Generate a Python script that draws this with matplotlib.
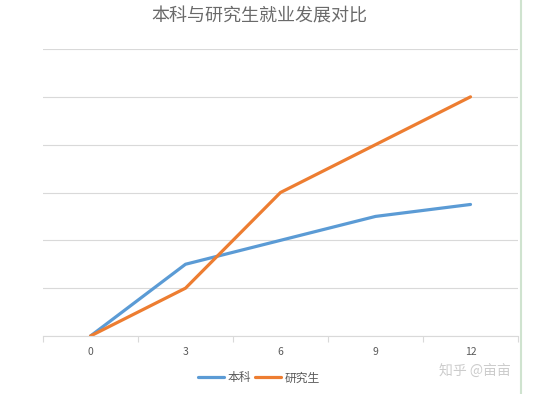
import matplotlib
matplotlib.use("Agg")
import matplotlib.pyplot as plt
import numpy as np

plt.rcParams['font.family'] = ['Noto Sans CJK SC', 'DejaVu Sans']

categories = ['0', '3', '6', '9', '12']
undergrad = [0, 1.5, 2, 2.5, 2.75]
graduate = [0, 1, 3, 4, 5]
series_names = ['本科', '研究生']
title = '本科与研究生就业发展对比'

W, H = 533, 394
fig = plt.figure(figsize=(W/100, H/100), dpi=100)
ax = fig.add_axes([43/W, 1-336/H, (518-43)/W, (336-49)/H])

x = np.arange(len(categories))
ax.plot(x, undergrad, color='#5B9BD5', lw=2.3, label=series_names[0], solid_capstyle='round', solid_joinstyle='round')
ax.plot(x, graduate, color='#ED7D31', lw=2.3, label=series_names[1], solid_capstyle='round', solid_joinstyle='round')

ax.set_xlim(-0.5, len(categories)-0.5)
ax.set_ylim(0, 6)
ax.set_yticks(np.arange(0, 7, 1))
ax.yaxis.grid(True, color='#D9D9D9', lw=0.8)
ax.set_axisbelow(True)
ax.tick_params(axis='y', left=False, labelleft=False)

ax.set_xticks(x)
ax.set_xticklabels(categories, fontsize=7.5, color='#595959')
ax.tick_params(axis='x', length=0, pad=8)
ax.set_xticks(np.arange(-0.5, len(categories), 1), minor=True)
ax.tick_params(axis='x', which='minor', length=4, color='#D9D9D9', width=0.8)

for s in ['top', 'right', 'left']:
    ax.spines[s].set_visible(False)
ax.spines['bottom'].set_color('#D9D9D9')
ax.spines['bottom'].set_linewidth(0.8)

fig.text(259/W, 1-17/H, title, ha='center', va='center', fontsize=13, color='#6A6A6A')

leg = fig.legend(loc='center', bbox_to_anchor=(259/W, 1-378/H), ncol=2, frameon=False,
                 fontsize=8.5, handlelength=2.2, handletextpad=0.3, columnspacing=0.4)
for t in leg.get_texts():
    t.set_color('#595959')

fig.text(475/W, 1-372/H, '知乎 @亩亩', ha='center', va='center', fontsize=10, color='#CCCCCC')
fig.add_artist(plt.Line2D([521/W, 521/W], [0, 1], color='#CFE3CF', lw=1.5))

fig.savefig('out.png', dpi=100)
